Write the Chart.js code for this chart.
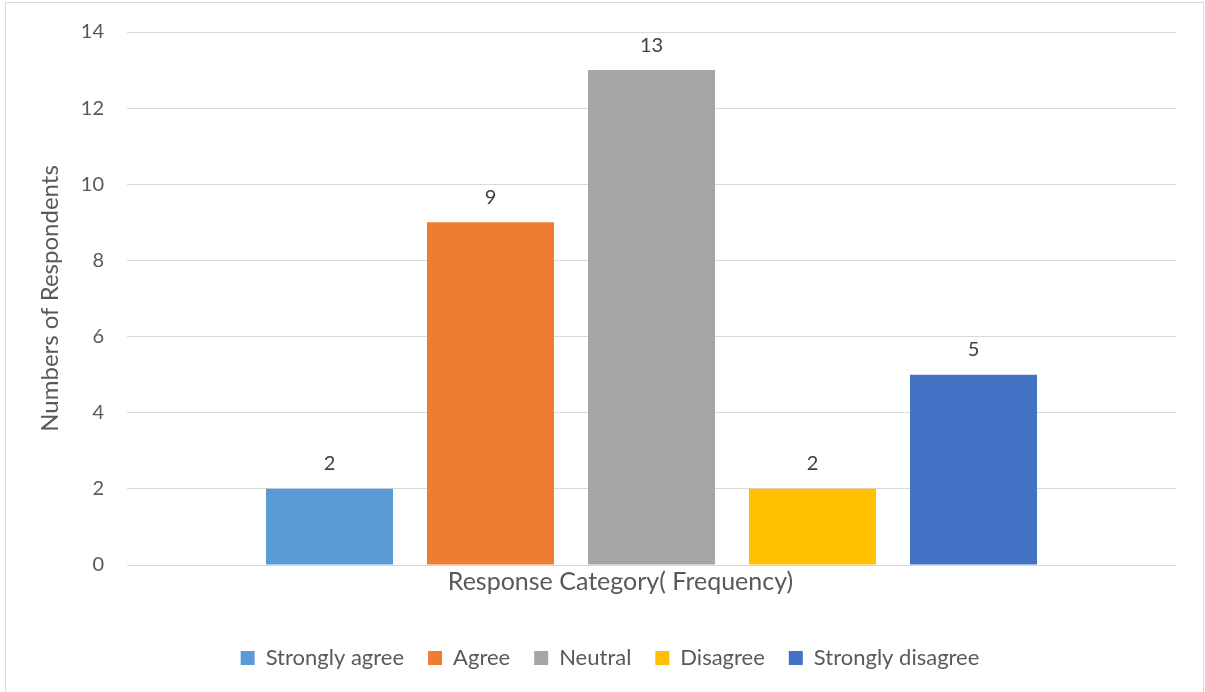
<!DOCTYPE html>
<html>
<head>
<meta charset="utf-8">
<script src="https://cdn.jsdelivr.net/npm/chart.js@4.4.1/dist/chart.umd.min.js"></script>
<style>
  html, body { margin: 0; padding: 0; background: #fff; }
  #wrap { position: relative; width: 1205px; height: 692px; }
</style>
</head>
<body>
<div id="wrap"><canvas id="chart" width="1205" height="692"></canvas></div>
<script>
// Survey responses, one bar per response option
const categories = ['Response Category( Frequency)'];
const responses = ['Strongly agree', 'Agree', 'Neutral', 'Disagree', 'Strongly disagree'];
const counts = [2, 9, 13, 2, 5];
const colors = ['#5B9BD5', '#ED7D31', '#A5A5A5', '#FFC000', '#4472C4'];
const yTicks = [0, 2, 4, 6, 8, 10, 12, 14];

const FONT = 'Lato, Calibri, "Open Sans", sans-serif';
const TEXT = '#595959';
const GRID = '#d9d9d9';

// Value labels above each bar
const valueLabels = {
  id: 'valueLabels',
  afterDatasetsDraw(chart) {
    const { ctx } = chart;
    ctx.save();
    ctx.font = `20px ${FONT}`;
    ctx.fillStyle = '#404040';
    ctx.textAlign = 'center';
    ctx.textBaseline = 'middle';
    chart.data.datasets.forEach((ds, i) => {
      chart.getDatasetMeta(i).data.forEach((bar, j) => {
        ctx.fillText(String(ds.data[j]), bar.x, bar.y - 25);
      });
    });
    ctx.restore();
  },
};

// Thin frame round the chart
const frame = {
  id: 'frame',
  beforeDraw(chart) {
    const { ctx } = chart;
    ctx.save();
    ctx.strokeStyle = GRID;
    ctx.lineWidth = 1;
    ctx.strokeRect(5.5, 2.5, 1198, 720);
    ctx.restore();
  },
};

new Chart(document.getElementById('chart'), {
  type: 'bar',
  data: {
    labels: categories,
    datasets: responses.map((name, i) => ({
      label: name,
      data: [counts[i]],
      backgroundColor: colors[i],
      borderWidth: 0,
      categoryPercentage: 0.7674,
      barPercentage: 0.789,
    })),
  },
  options: {
    responsive: false,
    animation: false,
    // left padding pushes the centred legend right; y axis width is trimmed to match
    layout: { padding: { top: 32, right: 29, left: 44, bottom: 13 } },
    plugins: {
      legend: {
        position: 'bottom',
        labels: {
          boxWidth: 14,
          boxHeight: 14,
          padding: 24,
          color: TEXT,
          font: { family: FONT, size: 22 },
        },
      },
      tooltip: { enabled: false },
    },
    scales: {
      x: {
        grid: { display: false, drawTicks: false },
        border: { display: false },
        ticks: { color: TEXT, font: { family: FONT, size: 25 }, padding: 2, labelOffset: -31 },
        afterFit: (scale) => { scale.height = 58; },
      },
      y: {
        min: 0,
        max: 14,
        afterBuildTicks: (scale) => { scale.ticks = yTicks.map((v) => ({ value: v })); },
        // invisible tick marks give the label gap without padding the top of the plot
        grid: { color: GRID, lineWidth: 1, drawTicks: true, tickLength: 23, tickColor: 'rgba(0,0,0,0)' },
        border: { display: false },
        ticks: { color: TEXT, font: { family: FONT, size: 20 }, padding: 0 },
        title: {
          display: true,
          text: 'Numbers of Respondents',
          color: TEXT,
          font: { family: FONT, size: 24 },
          padding: { top: -8.5 },
        },
        afterFit: (scale) => { scale.width = 83; },
      },
    },
  },
  plugins: [valueLabels, frame],
});
</script>
</body>
</html>
